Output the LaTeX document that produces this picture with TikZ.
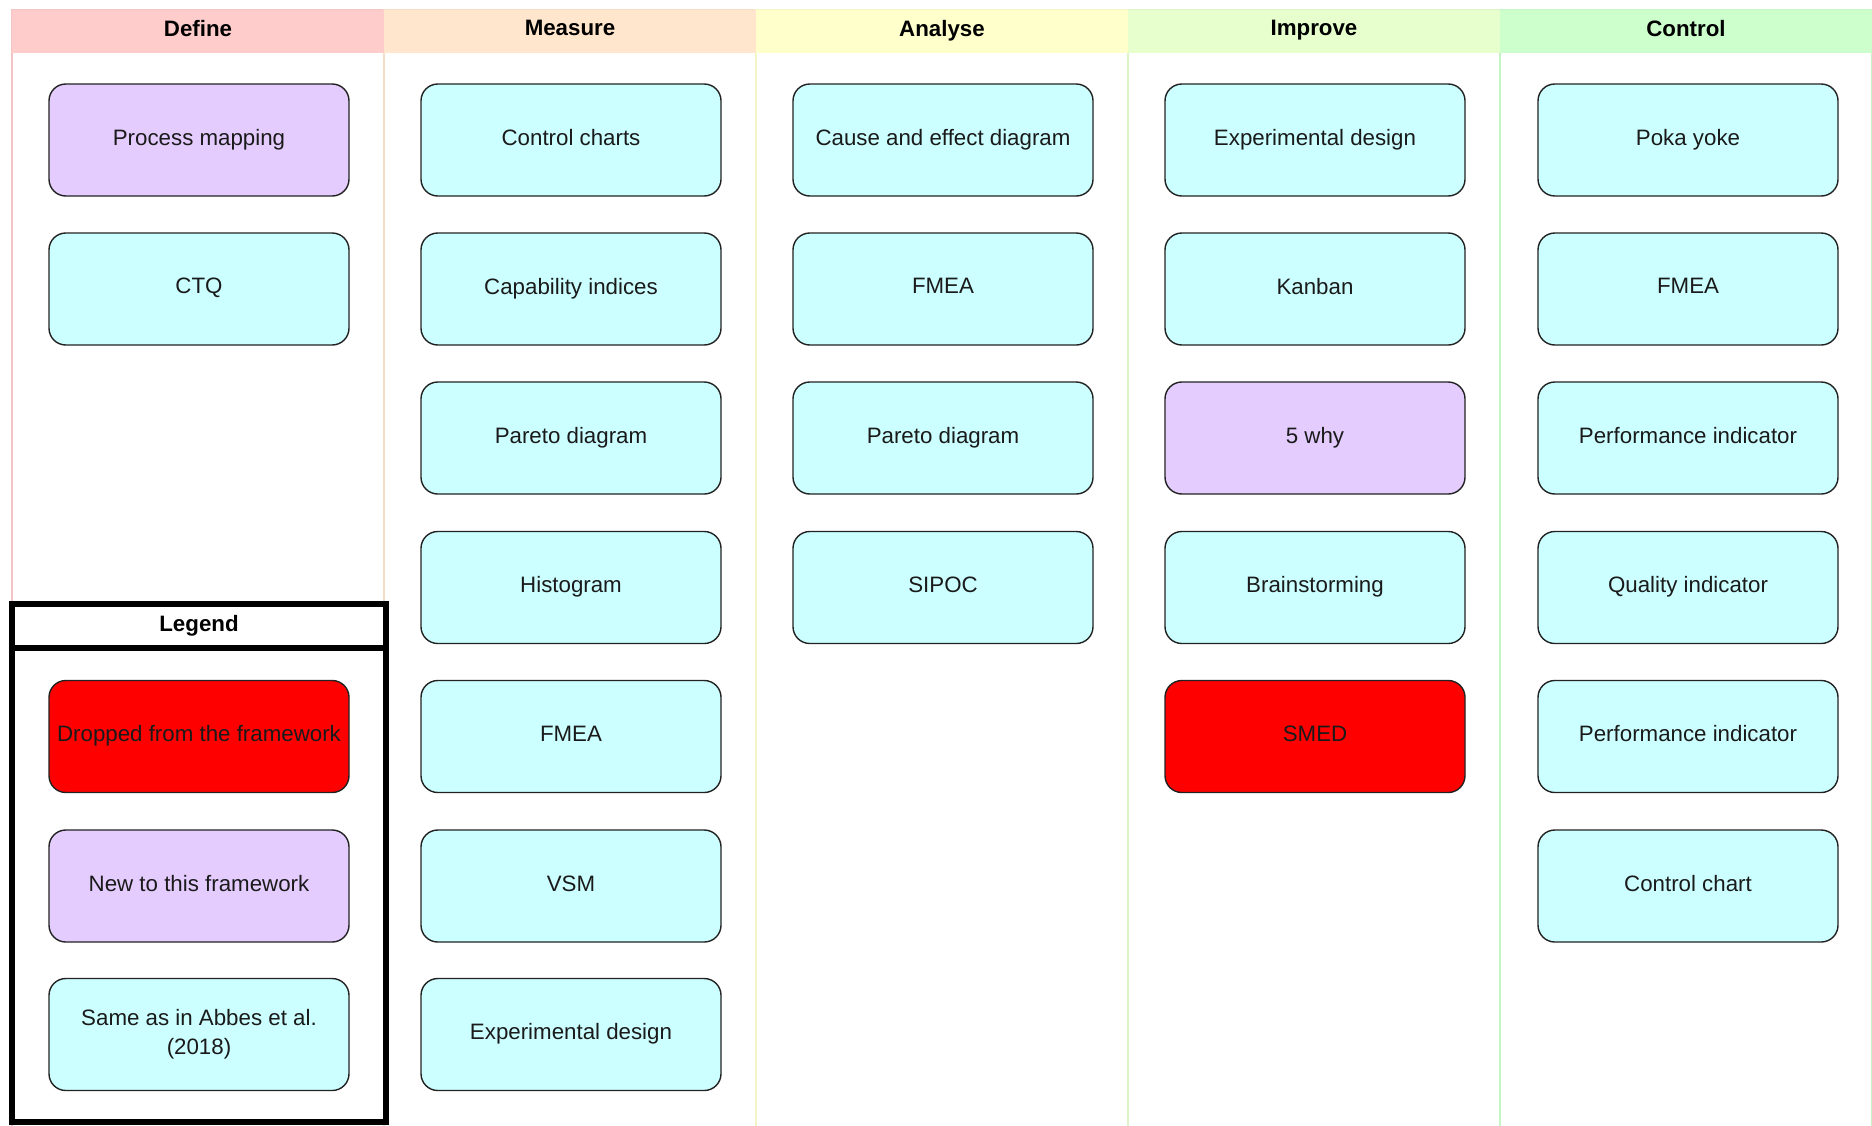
\documentclass[tikz,border=0pt]{standalone}
\usepackage{fontspec}
\setmainfont{Liberation Sans}
\definecolor{cyanfill}{HTML}{CCFFFF}
\definecolor{purplefill}{HTML}{E5CCFF}
\definecolor{redfill}{HTML}{FF0000}
\definecolor{hdefine}{HTML}{FFCCCC}
\definecolor{hmeasure}{HTML}{FFE6CC}
\definecolor{hanalyse}{HTML}{FFFFCC}
\definecolor{himprove}{HTML}{E6FFCC}
\definecolor{hcontrol}{HTML}{CCFFCC}
\definecolor{boxline}{HTML}{222222}
\definecolor{txtcol}{HTML}{1A1A1A}
\newcommand\mystrut{\rule[-2.8pt]{0pt}{10.5pt}}
\tikzset{
  txt/.style={font=\fontsize{11.15pt}{14.3pt}\selectfont, execute at begin node=\mystrut},
  tool/.style={txt, draw=boxline, line width=0.7pt, rounded corners=8.4pt,
    minimum width=150pt, minimum height=56pt, inner sep=0pt, align=center, text=txtcol},
  same/.style={tool, fill=cyanfill},
  new/.style={tool, fill=purplefill},
  dropped/.style={tool, fill=redfill},
  header/.style={txt, font=\fontsize{11.15pt}{14.3pt}\selectfont\bfseries, minimum width=186pt,
    minimum height=21.5pt, inner sep=0pt, text=black},
  legendbox/.style={draw=black, line width=3pt, inner sep=0pt},
}
\begin{document}
\begin{tikzpicture}[x=0.5pt,y=-0.5pt]
\useasboundingbox (0,0) rectangle (1872,1125);
\fill[white] (0,0) rectangle (1872,1125);
% column lanes
\foreach \l/\c in {12/hdefine,384/hmeasure,756/hanalyse,1128/himprove,1500/hcontrol}{
  \draw[\c!85!gray!60!\c, line width=0.6pt] (\l,9.5) rectangle (\l+372,1140);
}
\node[header, fill=hdefine]  (hD) at (198,31) {Define};
\node[header, fill=hmeasure] (hM) at (570,31) {Measure};
\node[header, fill=hanalyse] (hA) at (942,31) {Analyse};
\node[header, fill=himprove] (hI) at (1314,31) {Improve};
\node[header, fill=hcontrol] (hC) at (1686,31) {Control};
% Define
\node[new]  (d1) at (199,140) {Process mapping};
\node[same] (d2) at (199,289) {CTQ};
% Measure
\node[same] (m1) at (571,140) {Control charts};
\node[same] (m2) at (571,289) {Capability indices};
\node[same] (m3) at (571,438) {Pareto diagram};
\node[same] (m4) at (571,587.5) {Histogram};
\node[same] (m5) at (571,736.5) {FMEA};
\node[same] (m6) at (571,886) {VSM};
\node[same] (m7) at (571,1034.5) {Experimental design};
% Analyse
\node[same] (a1) at (943,140) {Cause and effect diagram};
\node[same] (a2) at (943,289) {FMEA};
\node[same] (a3) at (943,438) {Pareto diagram};
\node[same] (a4) at (943,587.5) {SIPOC};
% Improve
\node[same]    (i1) at (1315,140) {Experimental design};
\node[same]    (i2) at (1315,289) {Kanban};
\node[new]     (i3) at (1315,438) {5 why};
\node[same]    (i4) at (1315,587.5) {Brainstorming};
\node[dropped] (i5) at (1315,736.5) {SMED};
% Control
\node[same] (c1) at (1688,140) {Poka yoke};
\node[same] (c2) at (1688,289) {FMEA};
\node[same] (c3) at (1688,438) {Performance indicator};
\node[same] (c4) at (1688,587.5) {Quality indicator};
\node[same] (c5) at (1688,736.5) {Performance indicator};
\node[same] (c6) at (1688,886) {Control chart};
% Legend
\node[legendbox, fill=white, minimum width=187pt, minimum height=237pt] (lgbody) at (199,885) {};
\node[legendbox, fill=white, minimum width=187pt, minimum height=22pt,
      font=\fontsize{11.15pt}{14.3pt}\selectfont\bfseries, execute at begin node=\mystrut] (lgtitle) at (199,626) {Legend};
\node[dropped] (l1) at (199,736.5) {Dropped from the framework};
\node[new]     (l2) at (199,886) {New to this framework};
\node[same]    (l3) at (199,1034.5) {Same as in Abbes et al.\\(2018)};
\end{tikzpicture}
\end{document}
